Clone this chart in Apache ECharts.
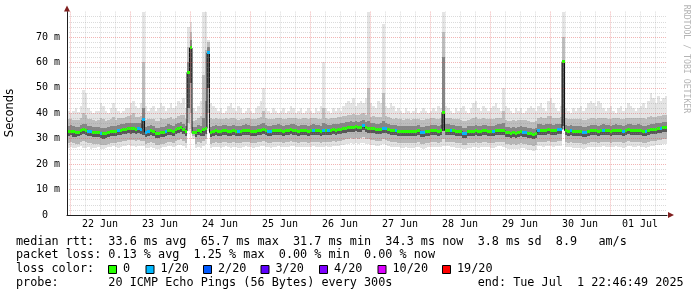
<!DOCTYPE html>
<html>
<head>
<meta charset="utf-8">
<script src="https://cdn.jsdelivr.net/npm/echarts@6.0.0/dist/echarts.min.js"></script>
<style>
html,body{margin:0;padding:0;background:#fff;}
#chart{width:697px;height:297px;}
</style>
</head>
<body>
<div id="chart"></div>
<script>
// ---------------- data ----------------
const startTime = '2025-06-21T22:46:49';
const dayDates = ['2025-06-22','2025-06-23','2025-06-24','2025-06-25','2025-06-26','2025-06-27','2025-06-28','2025-06-29','2025-06-30','2025-07-01'];
const dayLabels = ['22 Jun','23 Jun','24 Jun','25 Jun','26 Jun','27 Jun','28 Jun','29 Jun','30 Jun','01 Jul'];
const yMajorTicks = [10,20,30,40,50,60,70];
const yLabelValues = [0,10,20,30,40,50,60,70];

// hourly median RTT (ms), 240 bins from startTime
const median = [
33.0,33.0,32.7,32.5,32.6,33.2,33.6,33.4,32.9,32.8,32.4,32.3,
32.6,31.9,31.9,32.0,32.4,32.8,33.0,32.7,33.2,33.4,33.5,33.8,
34.0,33.9,34.0,33.8,33.9,33.8,37.4,32.6,32.8,33.1,32.9,32.2,
32.0,32.3,32.6,32.9,33.4,33.3,33.0,33.5,34.0,34.3,33.6,33.0,
56.1,65.7,32.3,32.6,33.3,32.9,33.5,34.1,63.8,32.4,32.8,33.2,
33.0,32.8,33.1,33.3,33.0,32.9,33.2,33.0,32.7,32.8,33.1,33.4,
33.3,33.0,32.8,33.0,33.2,33.4,33.5,33.3,33.0,32.9,33.1,33.3,
33.4,33.2,33.0,33.1,33.3,33.5,33.4,33.2,33.0,33.1,33.3,33.2,
33.0,33.2,33.4,33.3,33.1,33.0,33.2,33.4,33.1,33.3,33.5,33.4,
33.6,33.8,34.0,34.2,34.4,34.6,34.5,34.7,34.4,34.6,35.3,34.5,
34.2,33.9,34.0,33.7,33.5,33.8,34.2,34.0,33.6,33.3,33.1,33.2,
33.0,32.8,32.7,33.0,32.9,32.7,32.8,33.0,33.1,32.6,32.4,32.8,
33.0,33.2,33.3,33.1,33.0,33.2,40.4,33.4,33.4,33.3,33.1,32.9,
32.8,32.7,32.1,32.2,32.7,32.9,33.0,33.1,32.9,33.0,33.2,33.1,
33.0,32.9,32.8,33.1,33.4,33.4,33.2,32.6,32.3,32.2,32.4,32.2,
32.5,32.7,32.6,32.5,32.0,31.9,31.7,32.1,33.4,33.4,33.3,33.4,
33.5,33.4,33.3,33.4,33.5,33.6,60.3,33.2,33.0,33.1,32.9,32.9,
32.8,32.9,32.5,32.6,33.0,33.2,33.3,33.1,33.0,33.2,33.4,33.3,
33.1,33.0,33.2,33.4,33.3,33.1,32.9,33.2,33.5,33.4,33.2,33.3,
33.4,33.3,33.0,32.8,33.2,33.5,33.6,33.8,34.0,34.1,34.4,34.3
];
// bins whose loss class is 1/20
const lossOneIn20Bins = [8,9,13,20,28,29,30,31,32,39,56,68,80,81,98,102,104,118,126,127,131,141,142,153,158,159,170,182,183,188,196,197,201,206,207,214,222,231,237];

// smoke: distribution of the pings in each bin (ms)
const smokeMin = [
26.5,26.8,26.2,26.4,26.9,27.0,26.5,26.3,26.6,26.0,26.2,26.5,
26.8,26.0,25.8,26.2,26.6,26.9,27.2,26.7,26.4,26.8,27.1,27.3,
27.5,27.2,27.0,26.8,27.1,27.3,27.0,26.2,26.5,26.8,26.3,26.0,
25.9,26.3,26.6,26.9,27.0,27.2,26.8,27.1,27.4,27.6,27.0,26.5,
33.0,34.0,30.0,26.2,26.8,26.5,27.0,28.0,33.0,26.3,26.6,26.9,
26.8,26.5,26.7,27.0,26.6,26.4,26.8,26.6,26.2,26.4,26.7,27.0,
26.9,26.6,26.4,26.7,26.9,27.0,27.1,26.9,26.6,26.5,26.8,26.9,
27.0,26.8,26.6,26.7,26.9,27.1,27.0,26.8,26.6,26.7,26.9,26.8,
26.6,26.8,27.0,26.9,26.7,26.6,26.8,27.0,26.7,26.9,27.1,27.0,
27.2,27.4,27.6,27.8,28.0,28.2,28.0,28.3,28.0,28.2,28.5,28.0,
27.8,27.5,27.6,27.3,27.1,27.4,27.8,27.6,27.2,26.9,26.7,26.8,
26.6,26.4,26.3,26.6,26.5,26.3,26.4,26.6,26.7,26.2,26.0,26.4,
26.6,26.8,26.9,26.7,26.6,26.8,27.0,27.0,27.0,26.9,26.7,26.5,
26.4,26.3,25.8,25.9,26.3,26.5,26.6,26.7,26.5,26.6,26.8,26.7,
26.6,26.5,26.4,26.7,27.0,27.0,26.8,26.2,25.9,25.8,26.0,25.8,
26.1,26.3,26.2,26.1,25.6,25.5,25.3,25.7,27.0,27.0,26.9,27.0,
27.1,27.0,26.9,27.0,27.1,27.2,33.5,26.8,26.6,26.7,26.5,26.5,
26.4,26.5,26.1,26.2,26.6,26.8,26.9,26.7,26.6,26.8,27.0,26.9,
26.7,26.6,26.8,27.0,26.9,26.7,26.5,26.8,27.1,27.0,26.8,26.9,
27.0,26.9,26.6,26.4,26.8,27.1,27.2,27.4,27.6,27.7,28.0,27.9
];
const smokeP1 = [
28.5,28.6,28.2,28.0,28.1,28.7,29.1,28.9,28.4,28.3,27.9,27.8,
28.1,27.4,27.4,27.5,27.9,28.3,28.5,28.2,28.7,28.9,29.0,29.3,
29.5,29.4,29.5,29.3,29.4,29.3,29.0,28.1,28.3,28.6,28.4,27.7,
27.5,27.8,28.1,28.4,28.9,28.8,28.5,29.0,29.5,29.8,29.1,28.5,
36.0,40.0,31.0,28.1,28.8,28.4,29.0,30.0,40.0,27.9,28.3,28.7,
28.5,28.3,28.6,28.8,28.5,28.4,28.7,28.5,28.2,28.3,28.6,28.9,
28.8,28.5,28.3,28.5,28.7,28.9,29.0,28.8,28.5,28.4,28.6,28.8,
28.9,28.7,28.5,28.6,28.8,29.0,28.9,28.7,28.5,28.6,28.8,28.7,
28.5,28.7,28.9,28.8,28.6,28.5,28.7,28.9,28.6,28.8,29.0,28.9,
29.1,29.3,29.5,29.7,29.9,30.1,30.0,30.2,29.9,30.1,30.6,30.0,
29.7,29.4,29.5,29.2,29.0,29.3,29.7,29.5,29.1,28.8,28.6,28.7,
28.5,28.3,28.2,28.5,28.4,28.2,28.3,28.5,28.6,28.1,27.9,28.3,
28.5,28.7,28.8,28.6,28.5,28.7,30.0,28.9,28.9,28.8,28.6,28.4,
28.3,28.2,27.6,27.7,28.2,28.4,28.5,28.6,28.4,28.5,28.7,28.6,
28.5,28.4,28.3,28.6,28.9,28.9,28.7,28.1,27.8,27.7,27.9,27.7,
28.0,28.2,28.1,28.0,27.5,27.4,27.2,27.6,28.9,28.9,28.8,28.9,
29.0,28.9,28.8,28.9,29.0,29.1,34.0,28.7,28.5,28.6,28.4,28.4,
28.3,28.4,28.0,28.1,28.5,28.7,28.8,28.6,28.5,28.7,28.9,28.8,
28.6,28.5,28.7,28.9,28.8,28.6,28.4,28.7,29.0,28.9,28.7,28.8,
28.9,28.8,28.5,28.3,28.7,29.0,29.1,29.3,29.5,29.6,29.9,29.8
];
const smokeP2 = [
31.2,31.3,30.8,30.7,30.9,31.3,31.7,31.5,31.1,31.0,30.6,30.5,
30.8,30.1,30.0,30.2,30.6,31.0,31.2,30.9,31.4,31.6,31.7,32.0,
32.2,32.0,32.2,32.0,32.1,31.9,31.5,30.8,31.0,31.3,31.1,30.4,
30.2,30.5,30.8,31.1,31.6,31.5,31.2,31.7,32.2,32.5,31.8,31.2,
42.0,52.0,32.0,30.8,31.5,31.1,31.0,32.0,50.0,30.6,31.0,31.4,
31.2,31.0,31.3,31.5,31.2,31.1,31.4,31.2,30.9,31.0,31.3,31.6,
31.5,31.2,31.0,31.2,31.4,31.6,31.7,31.5,31.2,31.1,31.3,31.5,
31.6,31.4,31.2,31.3,31.5,31.7,31.6,31.4,31.2,31.3,31.5,31.4,
31.2,31.4,31.6,31.5,31.3,31.2,31.4,31.6,31.3,31.5,31.7,31.6,
31.8,32.0,32.2,32.4,32.6,32.8,32.7,32.9,32.6,32.8,33.3,32.7,
32.4,32.1,32.2,31.9,31.7,32.0,32.4,32.2,31.8,31.5,31.3,31.4,
31.2,31.0,30.9,31.2,31.1,30.9,31.0,31.2,31.3,30.8,30.6,31.0,
31.2,31.4,31.5,31.3,31.2,31.4,33.0,31.6,31.6,31.5,31.3,31.1,
31.0,30.9,30.3,30.4,30.9,31.1,31.2,31.3,31.1,31.2,31.4,31.3,
31.2,31.1,31.0,31.3,31.6,31.6,31.4,30.8,30.5,30.4,30.6,30.4,
30.7,30.9,30.8,30.7,30.2,30.1,29.9,30.3,31.6,31.6,31.5,31.6,
31.7,31.6,31.5,31.6,31.7,31.8,35.0,31.4,31.2,31.3,31.1,31.1,
31.0,31.1,30.7,30.8,31.2,31.4,31.5,31.3,31.2,31.4,31.6,31.5,
31.3,31.2,31.4,31.6,31.5,31.3,31.1,31.4,31.7,31.6,31.4,31.5,
31.6,31.5,31.2,31.0,31.4,31.7,31.8,32.0,32.2,32.3,32.6,32.5
];
const smokeP3 = [
35.2,35.3,34.9,34.7,34.8,35.4,35.9,35.6,35.1,35.0,34.6,34.5,
34.8,34.1,34.1,34.2,34.6,35.0,35.2,34.9,35.4,35.6,35.7,36.0,
36.2,36.1,36.2,36.0,36.1,36.0,42.0,34.8,35.0,35.3,35.1,34.4,
34.2,34.5,34.8,35.1,35.6,35.5,35.2,35.7,36.2,36.5,35.8,35.2,
60.0,69.0,34.5,34.8,35.5,35.1,38.0,45.0,66.0,34.6,35.0,35.4,
35.2,35.0,35.3,35.5,35.2,35.1,35.4,35.2,34.9,35.0,35.3,35.6,
35.5,35.2,35.0,35.2,35.4,35.6,36.0,35.5,35.2,35.1,35.3,35.5,
35.6,35.4,35.2,35.3,35.5,35.7,35.6,35.4,35.2,35.3,35.5,35.4,
35.2,35.4,35.6,35.5,35.3,35.2,36.0,35.6,35.3,35.5,35.7,35.6,
35.8,36.0,36.2,36.4,36.6,36.8,36.7,36.9,36.6,36.8,37.5,36.7,
37.0,36.1,36.2,35.9,35.7,36.0,37.0,36.2,35.8,35.5,35.3,35.4,
35.2,35.0,34.9,35.2,35.1,34.9,35.0,35.2,35.3,34.8,34.6,35.0,
35.2,35.4,35.5,35.3,35.2,35.4,62.0,35.6,35.6,35.5,35.3,35.1,
35.0,34.9,34.3,34.4,34.9,35.1,35.2,35.3,35.1,35.2,35.4,35.3,
35.2,35.1,35.0,35.3,35.6,35.6,36.0,34.8,34.5,34.4,34.6,34.4,
34.7,34.9,34.8,34.7,34.2,34.1,33.9,34.3,35.6,35.6,35.5,35.6,
35.7,35.6,35.5,35.6,35.7,35.8,61.0,35.4,35.2,35.3,35.1,35.1,
35.0,35.1,34.7,34.8,35.2,35.4,35.5,35.3,35.2,35.4,35.6,35.5,
35.3,35.2,35.4,35.6,35.5,35.3,35.1,35.4,35.7,35.6,35.4,35.5,
35.6,35.5,35.2,35.0,35.4,35.7,35.8,36.0,36.2,36.3,36.6,36.5
];
const smokeP4 = [
37.8,37.9,37.5,37.3,37.4,38.2,40.0,39.5,37.7,37.6,37.2,37.1,
37.4,38.0,37.8,36.8,37.2,37.8,38.5,37.5,38.0,38.2,38.3,38.6,
38.8,39.5,40.0,38.6,38.7,39.0,60.0,37.4,37.6,37.9,37.7,37.0,
37.0,38.0,37.6,37.7,38.2,38.5,37.8,38.3,39.0,39.2,39.5,37.8,
66.0,72.0,37.1,37.4,38.1,39.0,55.0,65.0,68.0,38.0,37.6,38.0,
37.8,37.6,37.9,38.1,37.8,38.2,38.0,37.8,37.5,37.6,37.9,38.2,
38.1,37.8,37.6,37.8,38.0,38.5,41.0,38.1,37.8,37.7,37.9,38.1,
38.2,38.0,37.8,37.9,38.1,38.3,38.2,38.0,37.8,37.9,38.1,38.0,
37.8,38.0,38.2,38.1,37.9,37.8,42.0,38.2,37.9,38.1,38.3,38.2,
38.4,38.6,38.8,39.0,39.4,39.5,39.6,39.5,39.4,39.6,40.0,39.5,
50.0,38.7,38.8,38.5,38.6,38.6,48.0,38.8,38.4,38.1,37.9,38.0,
37.8,37.6,37.5,37.8,37.7,37.5,37.6,37.8,37.9,37.4,37.2,37.6,
37.8,38.0,38.1,37.9,37.8,38.0,72.0,38.2,38.2,38.1,37.9,37.7,
37.6,37.5,36.9,37.0,37.5,37.7,38.0,38.5,37.7,37.8,38.0,37.9,
37.8,37.7,37.6,38.0,38.2,38.2,41.0,37.4,37.1,37.0,37.2,37.0,
37.3,37.5,37.4,37.3,36.8,36.7,36.5,36.9,38.2,38.5,38.1,38.2,
38.8,39.0,38.1,38.2,38.3,38.4,70.0,38.0,37.8,37.9,37.7,37.7,
37.6,37.7,37.3,37.4,37.8,38.3,38.1,37.9,38.2,38.0,38.2,38.1,
37.9,37.8,38.0,38.2,38.1,37.9,37.7,38.0,38.3,38.2,38.0,38.1,
38.2,38.3,38.0,37.8,38.4,39.0,38.6,38.6,39.0,38.9,39.2,39.3
];
const smokeMax = [
41,40,41,42,40.5,43,49,48,42,41,40,41,
41,44,43,41,40,42,44,42,41,40,41,42,
42,44,45,43,42,44,80,43,41,42,43,41,
42,44,43,41,42,44,42,43,45,44,46,42,
74,76,42,41,43,45,80,80,69,44,43,42,
41,42,40,41,43,44,42,41,43,42,40,41,
42,41,40,42,43,45,50,42,41,40,42,41,
40,41,42,40,41,43,42,40,41,42,40,41,
42,41,40,42,41,43,60,42,41,40,42,41,
42,41,43,44,45,44,46,43,44,45,44,46,
80,44,43,42,45,44,75,43,42,44,43,41,
42,41,40,42,41,40,41,42,40,41,42,41,
40,41,42,41,43,42,80,43,42,41,40,42,
41,42,43,41,40,42,44,45,42,41,43,42,
41,42,43,44,42,41,50,43,42,41,40,42,
41,42,40,41,42,43,42,41,43,44,42,41,
45,46,44,42,41,43,80,42,41,40,42,41,
42,43,41,42,44,45,44,43,45,44,42,41,
42,43,41,40,42,43,41,42,44,43,42,41,
42,43,44,42,45,48,46,44,47,45,46,47
];

const lossLegend = ['0','1/20','2/20','3/20','4/20','10/20','19/20'];
const statLines = [
  'median rtt:  33.6 ms avg  65.7 ms max  31.7 ms min  34.3 ms now  3.8 ms sd  8.9   am/s',
  'packet loss: 0.13 % avg  1.25 % max  0.00 % min  0.00 % now',
  'probe:       20 ICMP Echo Pings (56 Bytes) every 300s            end: Tue Jul  1 22:46:49 2025'
];

// ---------------- styles ----------------
const lossColors = ['#26ff00','#00b8ff','#0059ff','#5e00ff','#7e00ff','#dd00ff','#ff0000'];
const smokeShades = ['#e2e2e2','#b6b6b6','#575757','#858585','#bdbdbd','#e4e4e4'];
const MONO = '"DejaVu Sans Mono", monospace';
const MAJOR = 'rgba(222,79,79,0.42)';
const MINOR = 'rgba(143,143,143,0.32)';
const ARROW = '#801f1f';

// ---------------- derived ----------------
const t0 = Date.parse(startTime);
const hoursFrom = s => (Date.parse(s) - t0) / 3600000;
const nBins = median.length;
const labelPos = dayDates.map(d => hoursFrom(d + 'T12:00:00'));
const midnightPos = dayDates.map(d => hoursFrom(d + 'T00:00:00'));
const sixHourPos = [];
dayDates.forEach(d => ['06','12','18'].forEach(h => sixHourPos.push(hoursFrom(d + 'T' + h + ':00:00'))));
const yMinorTicks = [];
for (let v = 2; v < 80; v += 2) if (v % 10 !== 0) yMinorTicks.push(v);

const lossSet = new Set(lossOneIn20Bins);
const smokeData = median.map((m, k) => [k, smokeMin[k], smokeP1[k], smokeP2[k], m, smokeP3[k], smokeP4[k], smokeMax[k]]);
const medSegData = median.map((m, k) => [k, m, lossSet.has(k) ? 1 : 0]);
const medLineData = median.map((m, k) => [k, m]).concat([[nBins, median[nBins - 1]]]);

function smokeItem(params, api) {
  const k = api.value(0);
  const x0 = Math.round(api.coord([k, 0])[0]);
  const x1 = Math.round(api.coord([k + 1, 0])[0]);
  const ys = [];
  for (let i = 1; i <= 7; i++) ys.push(Math.round(api.coord([k, api.value(i)])[1]));
  const children = [];
  for (let i = 0; i < 6; i++) {
    const top = ys[i + 1], bot = ys[i];
    if (bot > top) children.push({type: 'rect', shape: {x: x0, y: top, width: x1 - x0, height: bot - top}, style: {fill: smokeShades[i]}});
  }
  return {type: 'group', children};
}
function medItem(params, api) {
  const k = api.value(0);
  const x0 = Math.round(api.coord([k, 0])[0]);
  const x1 = Math.round(api.coord([k + 1, 0])[0]);
  const yc = api.coord([k, api.value(1)])[1];
  const y0 = Math.round(yc - 1.5);
  return {type: 'rect', shape: {x: x0, y: y0, width: x1 - x0, height: 3}, style: {fill: lossColors[api.value(2)]}};
}

const baseX = {type: 'value', min: 0, position: 'bottom', z: 10, axisLabel: {show: false}, axisTick: {show: false}, axisLine: {show: false}, splitLine: {show: false}};
const baseY = {type: 'value', min: 0, position: 'left', z: 10, axisLabel: {show: false}, axisTick: {show: false}, axisLine: {show: false}, splitLine: {show: false}};

const graphics = [];
graphics.push({type: 'text', x: 10, y: 113, rotation: Math.PI / 2, style: {text: 'Seconds', font: '11.5px "DejaVu Sans"', fill: '#000', align: 'center', verticalAlign: 'middle'}});
graphics.push({type: 'text', x: 686.5, y: 59, rotation: -Math.PI / 2, style: {text: 'RRDTOOL / TOBI OETIKER', font: '8.2px ' + MONO, fill: '#b4b4b4', align: 'center', verticalAlign: 'middle'}});
const lineY = [241.5, 255.3, 269.2, 282.8];
graphics.push({type: 'text', x: 16, y: lineY[0], style: {text: statLines[0], font: '11.8px ' + MONO, fill: '#000', verticalAlign: 'middle'}});
graphics.push({type: 'text', x: 16, y: lineY[1], style: {text: statLines[1], font: '11.8px ' + MONO, fill: '#000', verticalAlign: 'middle'}});
graphics.push({type: 'text', x: 16, y: lineY[2], style: {text: 'loss color:', font: '11.8px ' + MONO, fill: '#000', verticalAlign: 'middle'}});
graphics.push({type: 'text', x: 16, y: lineY[3], style: {text: statLines[2], font: '11.8px ' + MONO, fill: '#000', verticalAlign: 'middle'}});
const boxX = [108.5, 146, 203.5, 261, 319.5, 378, 442.5];
lossLegend.forEach((lab, i) => {
  graphics.push({type: 'rect', shape: {x: boxX[i], y: 265.5, width: 8, height: 8}, style: {fill: lossColors[i], stroke: '#000', lineWidth: 1}});
  graphics.push({type: 'text', x: boxX[i] + 14.5, y: lineY[2], style: {text: lab, font: '11.8px ' + MONO, fill: '#000', verticalAlign: 'middle'}});
});

const chart = echarts.init(document.getElementById('chart'), null, {renderer: 'canvas', devicePixelRatio: 1});
chart.setOption({
  animation: false,
  backgroundColor: '#ffffff',
  grid: {left: 67, right: 30, top: 11.6, bottom: 82, containLabel: false, outerBoundsMode: 'none'},
  xAxis: [
    Object.assign({}, baseX, {max: nBins, z: 11,
      axisLine: {show: true, onZero: false, lineStyle: {color: '#1f1f1f', width: 1}},
      axisTick: {show: false, customValues: midnightPos},
      splitLine: {show: true, lineStyle: {color: MAJOR, width: 1, type: [1, 1]}},
      axisLabel: {show: true, customValues: labelPos, margin: 4, color: '#000', fontFamily: MONO, fontSize: 10,
        formatter: v => { const i = labelPos.findIndex(p => Math.abs(p - v) < 0.01); return i >= 0 ? dayLabels[i] : ''; }}
    }),
    Object.assign({}, baseX, {max: nBins,
      axisTick: {show: false, customValues: sixHourPos},
      splitLine: {show: true, lineStyle: {color: MINOR, width: 1, type: [1, 1]}}
    }),
    Object.assign({}, baseX, {max: nBins, z: 12,
      axisLine: {show: true, onZero: false, symbol: ['none', 'triangle'], symbolSize: [6, 6], symbolOffset: [0, 4], lineStyle: {color: ARROW, width: 0}}
    })
  ],
  yAxis: [
    Object.assign({}, baseY, {max: 80, z: 11,
      axisLine: {show: true, onZero: false, lineStyle: {color: '#1f1f1f', width: 1}},
      axisTick: {show: false, customValues: yMajorTicks},
      splitLine: {show: true, lineStyle: {color: MAJOR, width: 1, type: [1, 1]}},
      axisLabel: {show: true, customValues: yLabelValues, margin: 7, color: '#000', fontFamily: MONO, fontSize: 10,
        formatter: v => v === 0 ? '0  ' : v + ' m'}
    }),
    Object.assign({}, baseY, {max: 80,
      axisTick: {show: false, customValues: yMinorTicks},
      splitLine: {show: true, lineStyle: {color: MINOR, width: 1, type: [1, 1]}}
    }),
    Object.assign({}, baseY, {max: 80, z: 12,
      axisLine: {show: true, onZero: false, symbol: ['none', 'triangle'], symbolSize: [6, 6], symbolOffset: [0, 3], lineStyle: {color: ARROW, width: 0}}
    })
  ],
  series: [
    {type: 'custom', name: 'smoke', xAxisIndex: 0, yAxisIndex: 0, z: 2, clip: true, silent: true,
      renderItem: smokeItem, data: smokeData, encode: {x: 0, y: [1, 7]}},
    {type: 'line', name: 'median', xAxisIndex: 0, yAxisIndex: 0, z: 3, step: 'end', showSymbol: false, symbol: 'none', silent: true,
      lineStyle: {color: '#111', width: 1}, data: medLineData},
    {type: 'custom', name: 'loss', xAxisIndex: 0, yAxisIndex: 0, z: 4, clip: true, silent: true,
      renderItem: medItem, data: medSegData, encode: {x: 0, y: 1}}
  ],
  graphic: graphics
});
</script>
</body>
</html>
